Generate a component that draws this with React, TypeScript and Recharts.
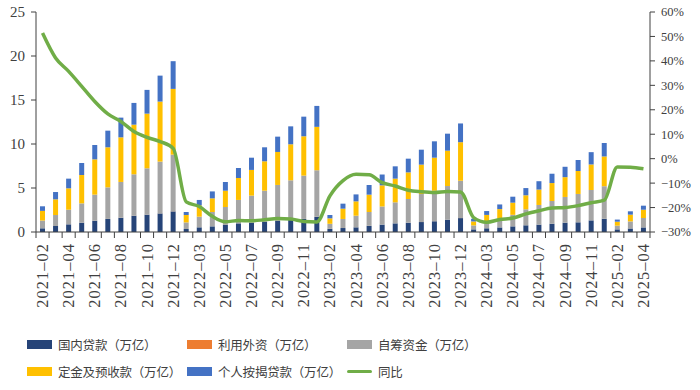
import { Bar, ComposedChart, Line, XAxis, YAxis } from 'recharts'

const months = [
  '2021-02', '2021-03', '2021-04', '2021-05', '2021-06', '2021-07', '2021-08', '2021-09', '2021-10', '2021-11', '2021-12',
  '2022-02', '2022-03', '2022-04', '2022-05', '2022-06', '2022-07', '2022-08', '2022-09', '2022-10', '2022-11', '2022-12',
  '2023-02', '2023-03', '2023-04', '2023-05', '2023-06', '2023-07', '2023-08', '2023-09', '2023-10', '2023-11', '2023-12',
  '2024-02', '2024-03', '2024-04', '2024-05', '2024-06', '2024-07', '2024-08', '2024-09', '2024-10', '2024-11', '2024-12',
  '2025-02', '2025-03', '2025-04',
]

// 万亿元, 年初至今累计, 各分项
const domesticLoan = [
  0.42, 0.68, 0.87, 1.06, 1.28, 1.48, 1.62, 1.85, 1.97, 2.11, 2.34,
  0.34, 0.53, 0.64, 0.8, 0.98, 1.05, 1.14, 1.26, 1.36, 1.48, 1.72,
  0.36, 0.45, 0.53, 0.7, 0.84, 0.98, 1.05, 1.13, 1.22, 1.4, 1.58,
  0.3, 0.42, 0.52, 0.64, 0.76, 0.84, 0.94, 1.06, 1.1, 1.32, 1.5,
  0.3, 0.4, 0.52,
]
const foreignCapital = [
  0.001, 0.002, 0.003, 0.004, 0.005, 0.006, 0.007, 0.008, 0.009, 0.01, 0.011,
  0.001, 0.002, 0.002, 0.003, 0.004, 0.004, 0.005, 0.006, 0.006, 0.007, 0.008,
  0.001, 0.001, 0.002, 0.002, 0.003, 0.003, 0.003, 0.004, 0.004, 0.004, 0.005,
  0.001, 0.001, 0.001, 0.002, 0.002, 0.002, 0.002, 0.002, 0.003, 0.003, 0.003,
  0.001, 0.001, 0.001,
]
const selfRaised = [
  0.88, 1.25, 1.66, 2.19, 2.96, 3.59, 4.06, 4.7, 5.26, 5.88, 6.44,
  0.75, 1.21, 1.63, 2.04, 2.66, 3.08, 3.55, 4.08, 4.51, 4.92, 5.29,
  0.57, 1.03, 1.32, 1.57, 2.06, 2.39, 2.7, 3.18, 3.47, 3.82, 4.24,
  0.45, 0.72, 0.98, 1.31, 1.82, 2.23, 2.58, 2.92, 3.22, 3.45, 3.7,
  0.42, 0.8, 1.07,
]
const deposits = [
  1.1, 1.78, 2.43, 3.22, 4.01, 4.55, 5.07, 5.64, 6.21, 6.82, 7.47,
  0.84, 1.28, 1.55, 1.85, 2.49, 2.92, 3.34, 3.75, 4.09, 4.47, 4.93,
  0.62, 1.17, 1.63, 1.97, 2.4, 2.69, 3.02, 3.34, 3.75, 4.02, 4.38,
  0.45, 0.8, 1.1, 1.38, 1.59, 1.75, 2.04, 2.25, 2.61, 2.9, 3.38,
  0.45, 0.77, 0.94,
]
const mortgage = [
  0.52, 0.83, 1.1, 1.37, 1.63, 1.89, 2.24, 2.47, 2.7, 2.95, 3.15,
  0.34, 0.62, 0.79, 0.99, 1.14, 1.39, 1.59, 1.74, 2.04, 2.23, 2.38,
  0.38, 0.57, 0.79, 1.1, 1.23, 1.4, 1.56, 1.7, 1.86, 1.93, 2.13,
  0.31, 0.44, 0.53, 0.68, 0.82, 0.95, 1.06, 1.18, 1.25, 1.4, 1.53,
  0.24, 0.38, 0.46,
]
// 到位资金同比, %
const yoy = [
  51.4, 41.2, 35.7, 29.6, 23.4, 18.3, 15.2, 11.1, 8.7, 7.0, 4.2,
  -17.7, -19.6, -23.6, -25.8, -25.3, -25.4, -25.0, -24.5, -24.7, -25.7, -25.9,
  -15.2, -9.0, -6.4, -6.6, -9.8, -11.2, -12.9, -13.5, -13.8, -13.4, -13.6,
  -24.1, -26.0, -24.9, -24.3, -22.6, -21.3, -20.2, -20.0, -19.2, -18.0, -17.0,
  -3.4, -3.5, -4.1,
]

const leftTicks = [0, 5, 10, 15, 20, 25]
const rightTicks = [-30, -20, -10, 0, 10, 20, 30, 40, 50, 60]

const COLORS = {
  domestic: '#264478',
  foreign: '#ED7D31',
  self: '#A5A5A5',
  deposit: '#FFC000',
  mortgage: '#4472C4',
  yoy: '#70AD47',
}

const legendItems = [
  { name: '国内贷款（万亿）', color: COLORS.domestic, type: 'rect' },
  { name: '利用外资（万亿）', color: COLORS.foreign, type: 'rect' },
  { name: '自筹资金（万亿）', color: COLORS.self, type: 'rect' },
  { name: '定金及预收款（万亿）', color: COLORS.deposit, type: 'rect' },
  { name: '个人按揭贷款（万亿）', color: COLORS.mortgage, type: 'rect' },
  { name: '同比', color: COLORS.yoy, type: 'line' },
]

const data = months.map((month, i) => ({
  month,
  domestic: domesticLoan[i],
  foreign: foreignCapital[i],
  self: selfRaised[i],
  deposit: deposits[i],
  mortgage: mortgage[i],
  yoy: yoy[i],
}))

const WIDTH = 700
const LEFT_W = 36
const RIGHT_W = 50
const STEP = (WIDTH - LEFT_W - RIGHT_W) / months.length
const AXIS = '#404040'

function MonthTick(props: any) {
  const { x, y, payload } = props
  const i = payload.index
  const axisY = y - 11
  return (
    <g>
      <line x1={x - STEP / 2} x2={x - STEP / 2} y1={axisY} y2={axisY + 6} stroke={AXIS} />
      {i === months.length - 1 && (
        <line x1={x + STEP / 2} x2={x + STEP / 2} y1={axisY} y2={axisY + 6} stroke={AXIS} />
      )}
      {i % 2 === 0 && (
        <text
          x={x}
          y={y}
          transform={`rotate(-90 ${x} ${y})`}
          textAnchor="end"
          dominantBaseline="central"
          fontSize={16.5}
          letterSpacing={1}
          fill="#404040"
        >
          {String(payload.value).replace('-', '–')}
        </text>
      )}
    </g>
  )
}

function ChartLegend() {
  return (
    <div style={{ position: 'absolute', left: 0, top: 334, width: WIDTH }}>
      {legendItems.map((item, i) => {
        const col = i % 3
        const row = Math.floor(i / 3)
        const left = [27, 187, 347][col]
        return (
          <div
            key={item.name}
            style={{
              position: 'absolute',
              left,
              top: row * 27,
              height: 20,
              display: 'flex',
              alignItems: 'center',
              whiteSpace: 'nowrap',
            }}
          >
            {item.type === 'rect' ? (
              <span style={{ width: 25, height: 9, background: item.color, display: 'inline-block' }} />
            ) : (
              <span style={{ width: 25, height: 3, background: item.color, display: 'inline-block', borderRadius: 2 }} />
            )}
            <span
              style={{
                marginLeft: 6,
                fontFamily: '"Noto Sans CJK SC", sans-serif',
                fontSize: 12.5,
                color: '#404040',
                letterSpacing: -0.2,
              }}
            >
              {item.name}
            </span>
          </div>
        )
      })}
    </div>
  )
}

export default function App() {
  return (
    <div
      style={{
        position: 'absolute',
        left: 0,
        top: 0,
        width: WIDTH,
        height: 390,
        background: '#fff',
        fontFamily: "'Liberation Serif', serif",
      }}
    >
      <ComposedChart
        width={WIDTH}
        height={310}
        data={data}
        margin={{ top: 12, right: 0, bottom: 0, left: 0 }}
        barSize={5}
      >
        <XAxis
          dataKey="month"
          interval={0}
          height={78}
          tickSize={6}
          tickMargin={5}
          tickLine={false}
          axisLine={{ stroke: AXIS }}
          tick={<MonthTick />}
        />
        <YAxis
          yAxisId="left"
          width={LEFT_W}
          domain={[0, 25]}
          ticks={leftTicks}
          tickSize={5}
          tickMargin={6}
          axisLine={{ stroke: AXIS }}
          tickLine={{ stroke: AXIS }}
          tick={{ fontSize: 15, fill: '#404040' }}
        />
        <YAxis
          yAxisId="right"
          orientation="right"
          width={RIGHT_W}
          domain={[-30, 60]}
          ticks={rightTicks}
          tickSize={5}
          tickMargin={6}
          axisLine={{ stroke: AXIS }}
          tickLine={{ stroke: AXIS }}
          tickFormatter={(v: number) => `${v}%`.replace('-', '−')}
          tick={{ fontSize: 12.5, fill: '#404040' }}
        />
        <Bar yAxisId="left" dataKey="domestic" stackId="a" fill={COLORS.domestic} isAnimationActive={false} />
        <Bar yAxisId="left" dataKey="foreign" stackId="a" fill={COLORS.foreign} isAnimationActive={false} />
        <Bar yAxisId="left" dataKey="self" stackId="a" fill={COLORS.self} isAnimationActive={false} />
        <Bar yAxisId="left" dataKey="deposit" stackId="a" fill={COLORS.deposit} isAnimationActive={false} />
        <Bar yAxisId="left" dataKey="mortgage" stackId="a" fill={COLORS.mortgage} isAnimationActive={false} />
        <Line
          yAxisId="right"
          dataKey="yoy"
          type="monotone"
          stroke={COLORS.yoy}
          strokeWidth={3.5}
          dot={false}
          isAnimationActive={false}
        />
      </ComposedChart>
      <ChartLegend />
    </div>
  )
}
